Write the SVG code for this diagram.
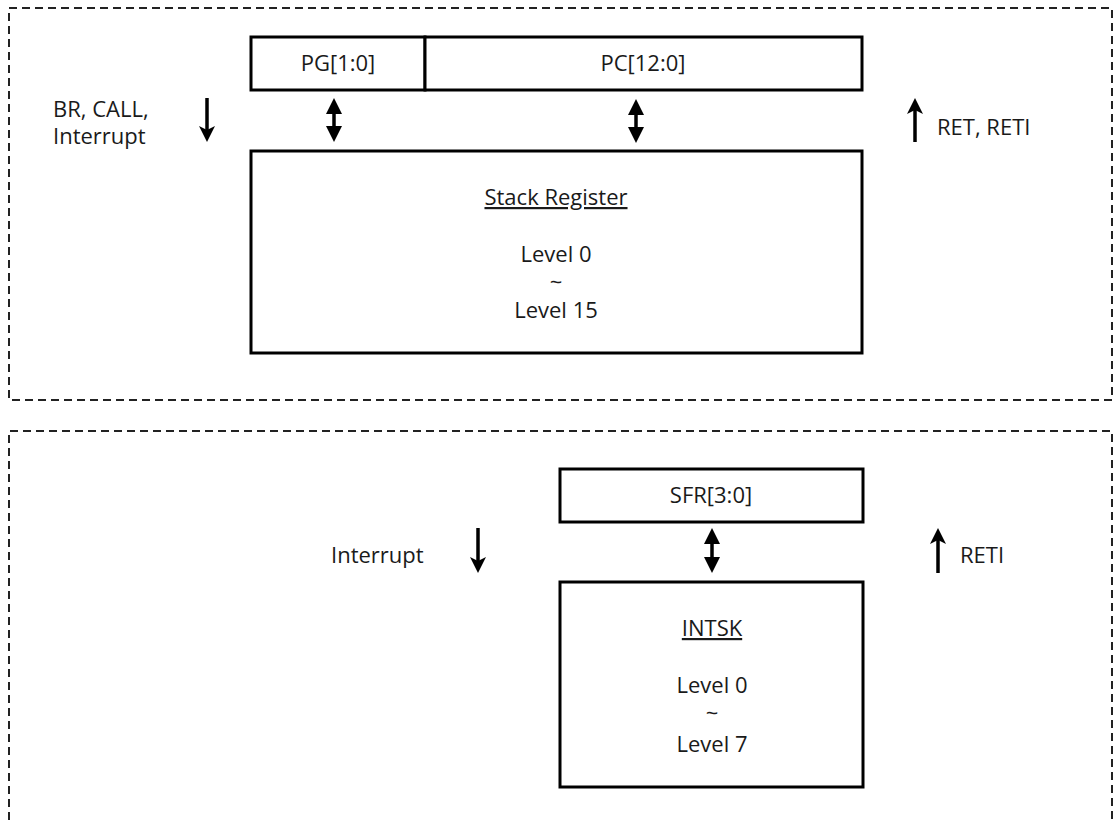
<svg xmlns="http://www.w3.org/2000/svg" width="1114" height="820" viewBox="0 0 1114 820">
<style>
.frame{fill:none;stroke:#222;stroke-width:2;stroke-dasharray:8 5}
.box{fill:#fff;stroke:#000;stroke-width:3}
.t{font-family:"Open Sans","Noto Sans",sans-serif;font-size:22px;fill:#1a1a1a}
.c{text-anchor:middle}
.u{text-decoration:underline}
.shaft{stroke:#000;stroke-width:3.5;fill:none}
.head{fill:#000}
</style>
<rect width="1114" height="820" fill="#fff"/>
<g id="frame-top"><rect class="frame" x="9" y="8" width="1103" height="392"/></g>
<g id="frame-bottom"><path class="frame" d="M9,820 V431 H1112 V820"/></g>

<g id="pg"><rect class="box" x="251" y="37" width="174" height="53"/><text class="t c" x="338" y="71">PG[1:0]</text></g>
<g id="pc"><rect class="box" x="425" y="37" width="437" height="53"/><text class="t c" x="643" y="71">PC[12:0]</text></g>
<g id="stack"><rect class="box" x="251" y="151" width="611" height="202"/>
<text class="t c u" x="556" y="205">Stack Register</text>
<text class="t c" x="556" y="262">Level 0</text>
<text class="t c" x="556" y="290">~</text>
<text class="t c" x="556" y="318">Level 15</text></g>
<g id="lbl-br"><text class="t" x="53" y="117">BR, CALL,</text><text class="t" x="53" y="144">Interrupt</text></g>
<g id="lbl-ret"><text class="t" x="937" y="135">RET, RETI</text></g>

<g id="sfr"><rect class="box" x="560" y="469" width="303" height="53"/><text class="t c" x="711" y="503">SFR[3:0]</text></g>
<g id="intsk"><rect class="box" x="560" y="582" width="303" height="205"/>
<text class="t c u" x="712" y="636">INTSK</text>
<text class="t c" x="712" y="693">Level 0</text>
<text class="t c" x="712" y="721">~</text>
<text class="t c" x="712" y="752">Level 7</text></g>
<g id="lbl-int"><text class="t" x="331" y="563">Interrupt</text></g>
<g id="lbl-reti"><text class="t" x="960" y="563">RETI</text></g>

<g id="connectors">
<path class="shaft" d="M207,98 V130"/><path class="head" d="M199,126 L207,142 L215,126 L207,130 Z"/>
<path class="shaft" d="M915,110 V142"/><path class="head" d="M907,114 L915,98 L923,114 L915,110 Z"/>
<path class="shaft" d="M334,110 V130"/><path class="head" d="M326,114 L334,98 L342,114 Z M326,126 L334,142 L342,126 Z"/>
<path class="shaft" d="M636,111 V131"/><path class="head" d="M628,115 L636,99 L644,115 Z M628,127 L636,143 L644,127 Z"/>
<path class="shaft" d="M478,528 V561"/><path class="head" d="M470,557 L478,573 L486,557 L478,561 Z"/>
<path class="shaft" d="M938,540 V573"/><path class="head" d="M930,544 L938,528 L946,544 L938,540 Z"/>
<path class="shaft" d="M712,540 V561"/><path class="head" d="M704,544 L712,528 L720,544 Z M704,557 L712,573 L720,557 Z"/>
</g>
</svg>
